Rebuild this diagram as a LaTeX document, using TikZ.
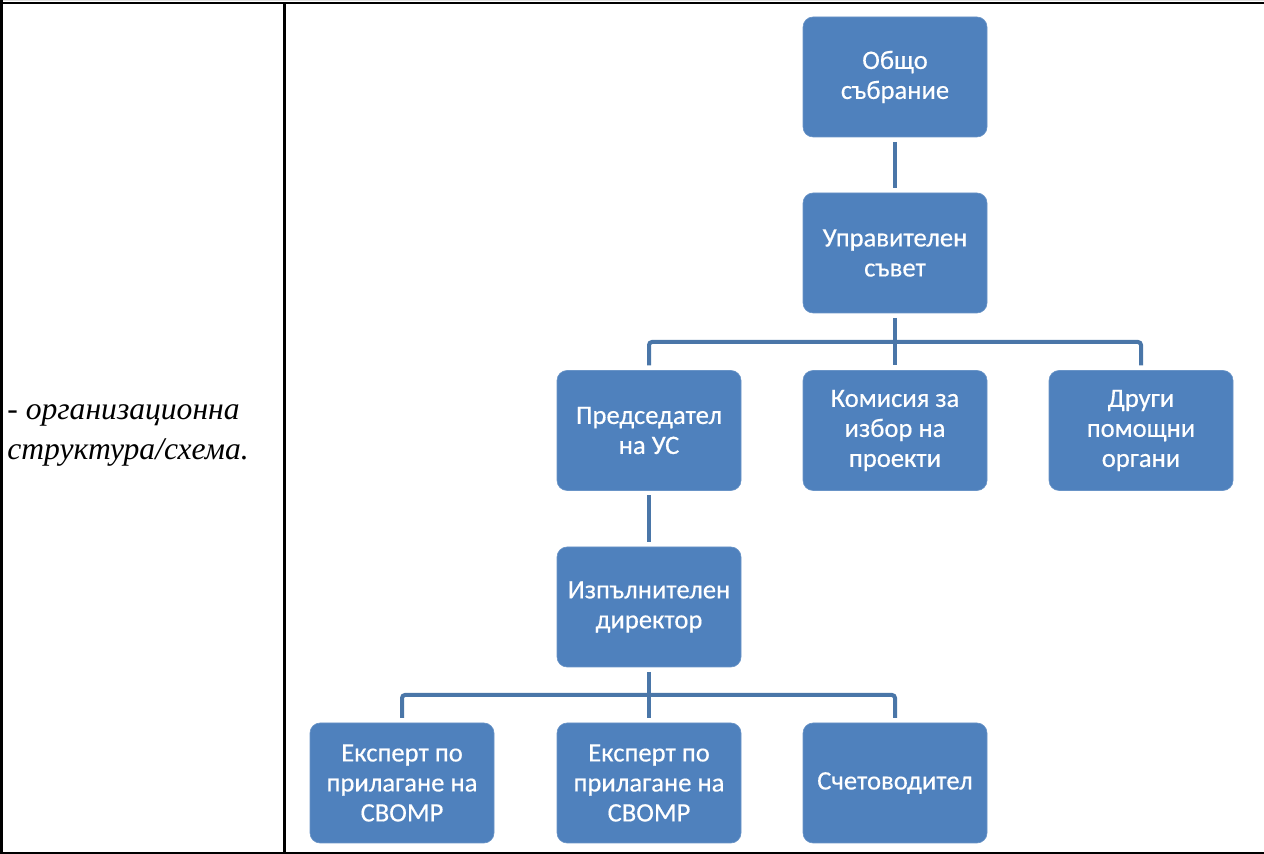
\documentclass[tikz,border=0pt]{standalone}
\usepackage{fontspec}
\setmainfont{Liberation Serif}
\newfontfamily\boxfont[FakeBold=0.4]{Carlito}
\definecolor{boxblue}{HTML}{4F81BD}
\definecolor{connblue}{HTML}{4A76A8}
\begin{document}
\begin{tikzpicture}[x=0.5pt,y=-0.5pt,
  orgbox/.style={rectangle, rounded corners=5pt, fill=boxblue, draw=boxblue!85!white, line width=0.3pt,
    minimum width=92pt, minimum height=60pt, inner sep=0pt, outer sep=2.5pt,
    align=center, text=white, font=\boxfont\fontsize{13.3}{15}\selectfont},
  conn/.style={draw=connblue, line width=2pt},
  tline/.style={draw=black, line width=1.4pt},
  lefttext/.style={anchor=base west, inner sep=0pt, font=\itshape\fontsize{15.8}{15}\selectfont}]
\useasboundingbox (0,0) rectangle (1264,854);
\fill[gray!25] (0,0) rectangle (1264,1.4);
% table lines
\draw[tline] (0,3) -- (1264,3);
\draw[tline] (1.5,0) -- (1.5,854);
\draw[tline] (284.7,3) -- (284.7,854);
\draw[tline] (0,853) -- (1264,853);
% left text
\node[lefttext] (lbl1) at (7,420) {- организационна};
\node[lefttext] (lbl2) at (7,460) {структура/схема.};
% boxes
\node[orgbox] (n1) at (895,77) {Общо\\събрание};
\node[orgbox] (n2) at (895,253) {Управителен\\съвет};
\node[orgbox] (n3) at (649,430.5) {Председател\\на УС};
\node[orgbox] (n4) at (895,430.5) {Комисия за\\избор на\\проекти};
\node[orgbox] (n5) at (1141,430.5) {Други\\помощни\\органи};
\node[orgbox] (n6) at (649,607) {Изпълнителен\\директор};
\node[orgbox] (n7) at (402,783) {Експерт по\\прилагане на\\СВОМР};
\node[orgbox] (n8) at (649,783) {Експерт по\\прилагане на\\СВОМР};
\node[orgbox] (n9) at (895,783) {Счетоводител};
% connectors
\coordinate (b1) at (895,342);
\coordinate (b2) at (649,695);
\draw[conn] (n1.south) -- (n2.north);
\draw[conn] (n2.south) -- (b1);
\draw[conn, rounded corners=1.5pt] (n3.north) |- (b1) -| (n5.north);
\draw[conn] (b1) -- (n4.north);
\draw[conn] (n3.south) -- (n6.north);
\draw[conn] (n6.south) -- (n8.north);
\draw[conn, rounded corners=1.5pt] (n7.north) |- (b2) -| (n9.north);
\end{tikzpicture}
\end{document}
